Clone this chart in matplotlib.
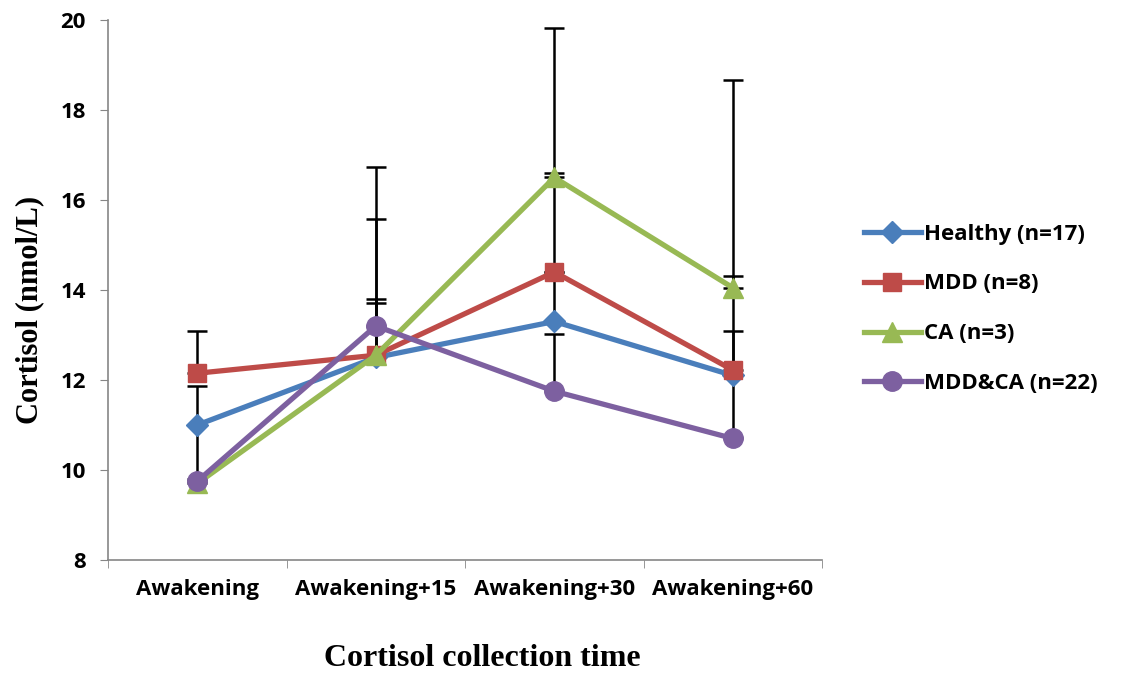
import matplotlib.pyplot as plt
import numpy as np

# 数据
times = ['Awakening', 'Awakening+15', 'Awakening+30', 'Awakening+60']
groups = ['Healthy (n=17)', 'MDD (n=8)', 'CA (n=3)', 'MDD&CA (n=22)']
healthy = [11.0, 12.5, 13.3, 12.1]
mdd = [12.15, 12.55, 14.4, 12.22]
ca = [9.7, 12.55, 16.5, 14.05]
mdd_ca = [9.75, 13.2, 11.75, 10.7]
# 误差(只画上半部分)
healthy_err = [0.87, 3.08, 1.1, 0.99]
mdd_err = [0.94, 1.25, 2.2, 2.09]
ca_err = [0.1, 4.18, 3.32, 4.62]
mdd_ca_err = [1.25, 0.51, 1.27, 1.4]

values = [healthy, mdd, ca, mdd_ca]
errors = [healthy_err, mdd_err, ca_err, mdd_ca_err]
colors = ['#4A7EBB', '#BE4B48', '#98B954', '#7D60A0']
markers = ['D', 's', '^', 'o']
msizes = [11, 13, 14, 14]

fig = plt.figure(figsize=(11.22, 6.75), dpi=100)
ax = fig.add_axes([0.0963, 0.1704, 0.6364, 0.8])

x = np.arange(len(times))
for i in range(len(groups)):
    ax.errorbar(x, values[i], yerr=[np.zeros(len(x)), errors[i]], fmt='none',
                ecolor='black', elinewidth=1.8, capsize=7, capthick=1.8, zorder=2)
for i in range(len(groups)):
    ax.plot(x, values[i], color=colors[i], marker=markers[i], markersize=msizes[i],
            linewidth=3.8, label=groups[i], zorder=3 + i)

ax.set_xlim(-0.5, 3.5)
ax.set_ylim(8, 20)
ax.set_yticks(np.arange(8, 21, 2))
ax.set_xticks(x)
ax.set_xticks(np.arange(-0.5, 4, 1), minor=True)
ax.tick_params(axis='x', which='major', length=0, pad=14)
ax.tick_params(axis='x', which='minor', length=6, color='#868686')
ax.tick_params(axis='y', length=6, color='#868686', pad=10)
ax.set_xticklabels(times, fontsize=16, fontweight='bold', family='Open Sans')
for lab in ax.get_yticklabels():
    lab.set_fontsize(16)
    lab.set_fontweight('bold')
    lab.set_family('Open Sans')

for s in ['top', 'right']:
    ax.spines[s].set_visible(False)
for s in ['left', 'bottom']:
    ax.spines[s].set_color('#868686')
    ax.spines[s].set_linewidth(1.2)

ax.set_ylabel('Cortisol (nmol/L)', fontsize=22, fontweight='bold',
              family='Liberation Serif')
ax.yaxis.set_label_coords(-0.09, 0.463)
ax.set_xlabel('Cortisol collection time', fontsize=23, fontweight='bold',
              family='Liberation Serif')
ax.xaxis.set_label_coords(0.524, -0.155)

ax.legend(loc='center left', bbox_to_anchor=(1.03, 0.465), frameon=False,
          prop={'family': 'Open Sans', 'weight': 'bold', 'size': 16},
          handlelength=2.6, handletextpad=0.1, labelspacing=1.3)

plt.savefig('out.png', dpi=100)
